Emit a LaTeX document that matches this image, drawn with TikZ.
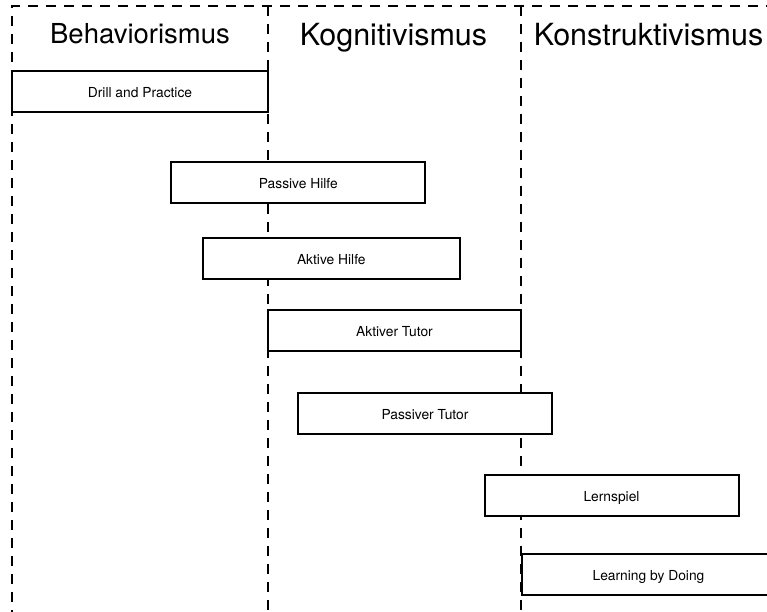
\documentclass[tikz,border=0pt]{standalone}
\usepackage{fontspec}
\setmainfont{TeX Gyre Heros}
\begin{document}
\begin{tikzpicture}[x=1pt,y=-1pt,
  divider/.style={line width=2pt,dash pattern=on 10pt off 8pt},
  header/.style={anchor=base,font=\fontsize{30.5}{34}\selectfont},
  phase/.style={draw,line width=2pt,fill=white,minimum width=254pt,minimum height=41pt,
    inner sep=0pt,text height=12pt,text depth=0pt,font=\fontsize{13.8}{16}\selectfont}]
  \useasboundingbox (0,0) rectangle (767,611);
  \clip (0,0) rectangle (767,611);

  % column frame
  \coordinate (tl) at (12,6);
  \coordinate (tr) at (775,6);
  \coordinate (bl) at (12,620);
  \coordinate (m1t) at (268,6);
  \coordinate (m1b) at (268,620);
  \coordinate (m2t) at (521,6);
  \coordinate (m2b) at (521,620);
  \draw[divider] (bl) -- (tl) -- (tr);
  \draw[divider] (m1t) -- (m1b);
  \draw[divider] (m2t) -- (m2b);

  % column headings
  \node[header,font=\fontsize{27.5}{32}\selectfont] (beh) at (140,43.5) {Behaviorismus};
  \node[header] (kog) at (393.5,45) {Kognitivismus};
  \node[header] (kon) at (648.5,45) {Konstruktivismus};

  % learning software types
  \node[phase,minimum width=256pt] (drill) at (140,91.5) {Drill and Practice};
  \node[phase] (philfe) at (298.3,182) {Passive Hilfe};
  \node[phase,minimum width=257pt] (ahilfe) at (331.3,258.5) {Aktive Hilfe};
  \node[phase,minimum width=253pt] (atutor) at (394.5,330) {Aktiver Tutor};
  \node[phase] (ptutor) at (425,413) {Passiver Tutor};
  \node[phase] (spiel) at (611.5,495) {Lernspiel};
  \node[phase] (doing) at (648.5,574) {Learning by Doing};
\end{tikzpicture}
\end{document}
